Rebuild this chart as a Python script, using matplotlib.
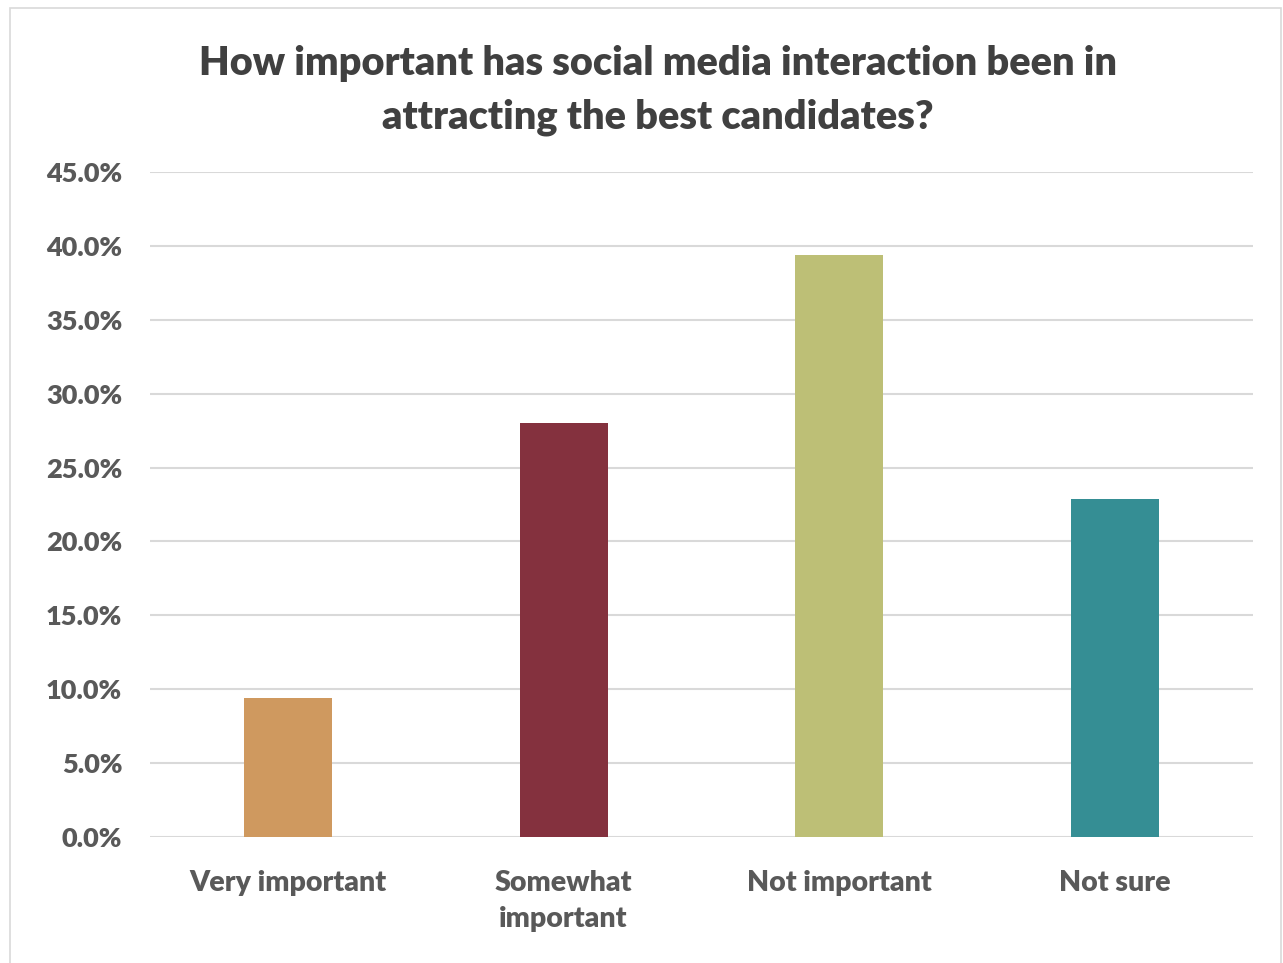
import matplotlib
matplotlib.use("Agg")
import matplotlib.pyplot as plt
from matplotlib.patches import Rectangle
from matplotlib.ticker import FuncFormatter, MultipleLocator

categories = ["Very important", "Somewhat\nimportant", "Not important", "Not sure"]
shares = [9.4, 28.0, 39.4, 22.9]
colors = ["#CF995F", "#84313E", "#BDBF76", "#358E94"]
title = "How important has social media interaction been in\nattracting the best candidates?"

plt.rcParams["font.family"] = ["Lato", "DejaVu Sans"]

fig = plt.figure(figsize=(12.83, 9.63), dpi=100)
ax = fig.add_axes([150 / 1283, 126 / 963, 1103 / 1283, 665 / 963])

# light frame round the chart area
fig.patches.append(Rectangle((10 / 1283, -0.01), 1271 / 1283, 955 / 963 + 0.01,
                             transform=fig.transFigure, fill=False,
                             edgecolor="#D9D9D9", linewidth=1.2))

x = list(range(len(categories)))
ax.bar(x, shares, width=0.32, color=colors, zorder=3)

ax.set_xlim(-0.5, 3.5)
ax.set_ylim(0, 45)
ax.yaxis.set_major_locator(MultipleLocator(5))
ax.yaxis.set_major_formatter(FuncFormatter(lambda v, _: f"{v:.1f}%"))
ax.grid(axis="y", color="#D9D9D9", linewidth=1.5, zorder=0)
for s in ax.spines.values():
    s.set_visible(False)
ax.tick_params(length=0)
ax.tick_params(axis="y", pad=20)
ax.tick_params(axis="x", pad=24)
ax.set_xticks(x)
ax.set_xticklabels(categories)
for lab in ax.get_xticklabels():
    lab.set_fontsize(20.5)
    lab.set_linespacing(1.45)
for lab in ax.get_yticklabels():
    lab.set_fontsize(19.5)
for lab in ax.get_xticklabels() + ax.get_yticklabels():
    lab.set_fontweight("heavy")
    lab.set_color("#595959")

fig.text(658 / 1283, 1 - 91 / 963, title, ha="center", va="center",
         fontsize=28.5, fontweight="heavy", color="#404040", linespacing=1.55)

fig.savefig("out.png", dpi=100, facecolor="white")
